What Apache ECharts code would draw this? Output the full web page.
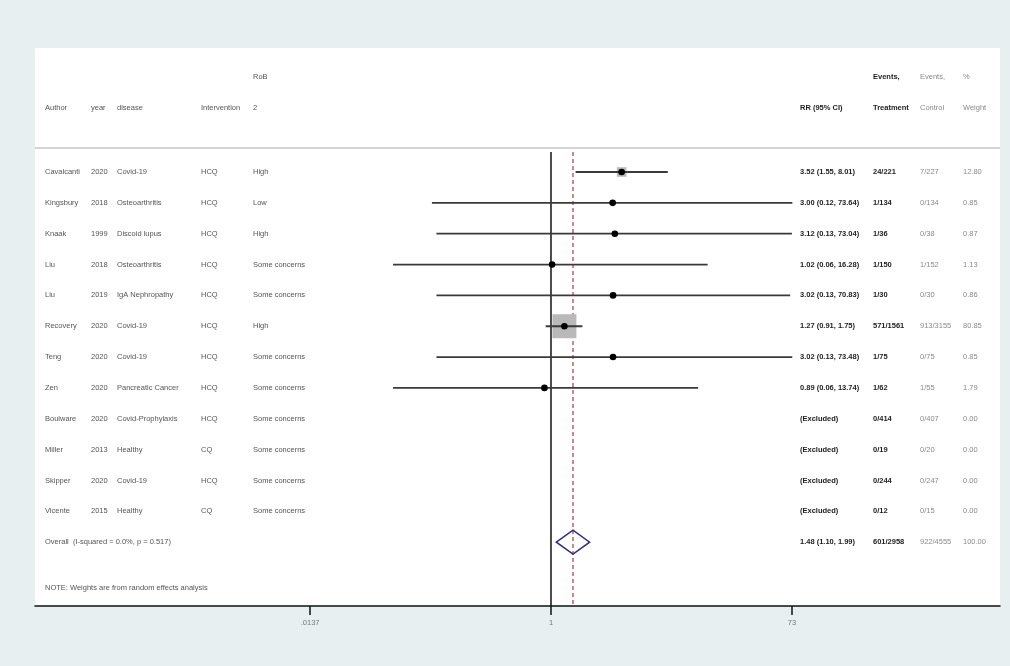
<!DOCTYPE html>
<html>
<head>
<meta charset="utf-8">
<title>Forest plot</title>
<script src="https://cdn.jsdelivr.net/npm/echarts@6/dist/echarts.min.js"></script>
<style>
  html, body { margin: 0; padding: 0; background: #e8eff1; }
  #chart { width: 1010px; height: 666px; }
</style>
</head>
<body>
<div id="chart"></div>
<script>
// ---- study table ----
const authors = ['Cavalcanti', 'Kingsbury', 'Knaak', 'Liu', 'Liu', 'Recovery', 'Teng', 'Zen', 'Boulware', 'Miller', 'Skipper', 'Vicente'];
const years = ['2020', '2018', '1999', '2018', '2019', '2020', '2020', '2020', '2020', '2013', '2020', '2015'];
const diseases = ['Covid-19', 'Osteoarthritis', 'Discoid lupus', 'Osteoarthritis', 'IgA Nephropathy', 'Covid-19', 'Covid-19',
  'Pancreatic Cancer', 'Covid-Prophylaxis', 'Healthy', 'Covid-19', 'Healthy'];
const interventions = ['HCQ', 'HCQ', 'HCQ', 'HCQ', 'HCQ', 'HCQ', 'HCQ', 'HCQ', 'HCQ', 'CQ', 'HCQ', 'CQ'];
const rob2 = ['High', 'Low', 'High', 'Some concerns', 'Some concerns', 'High', 'Some concerns', 'Some concerns',
  'Some concerns', 'Some concerns', 'Some concerns', 'Some concerns'];

// risk ratios with 95% CI (null = excluded study)
const rr = [3.52, 3.00, 3.12, 1.02, 3.02, 1.27, 3.02, 0.89, null, null, null, null];
const rrLow = [1.55, 0.12, 0.13, 0.06, 0.13, 0.91, 0.13, 0.06, null, null, null, null];
const rrHigh = [8.01, 73.64, 73.04, 16.28, 70.83, 1.75, 73.48, 13.74, null, null, null, null];
const eventsTreated = ['24/221', '1/134', '1/36', '1/150', '1/30', '571/1561', '1/75', '1/62', '0/414', '0/19', '0/244', '0/12'];
const eventsControl = ['7/227', '0/134', '0/38', '1/152', '0/30', '913/3155', '0/75', '1/55', '0/407', '0/20', '0/247', '0/15'];
const weights = [12.80, 0.85, 0.87, 1.13, 0.86, 80.85, 0.85, 1.79, 0.00, 0.00, 0.00, 0.00];

// pooled estimate
const overallRR = 1.48;
const overallLow = 1.10;
const overallHigh = 1.99;
const overallTreated = '601/2958';
const overallControl = '922/4555';
const overallWeight = '100.00';
const overallLabel = 'Overall  (I-squared = 0.0%, p = 0.517)';
const noteText = 'NOTE: Weights are from random effects analysis';

// x axis ticks
const tickValues = [0.0137, 1, 73];
const tickLabels = ['.0137', '1', '73'];

// ---- layout helpers ----
const lg = v => Math.log10(v);
const FONT = '"Liberation Sans", Arial, sans-serif';
const FS = 7.5;
const ROW_HEAD1 = -3.08, ROW_HEAD2 = -2.07, ROW_SEP = -0.78, ROW_LINE_TOP = -0.65;
const ROW_OVERALL = 12, ROW_NOTE = 13.48;
const Y_MIN = -4.02, Y_MAX = 14.07;
const X_MIN = -3.991, X_MAX = 3.473;

const COLS = { author: 45, year: 91, disease: 117, interv: 201, rob: 253, rr: 800, treat: 873, ctrl: 920, weight: 963 };

const fmt = v => v.toFixed(2);
const rrText = i => rr[i] == null ? '(Excluded)' : fmt(rr[i]) + ' (' + fmt(rrLow[i]) + ', ' + fmt(rrHigh[i]) + ')';

function txt(x, y, text, fill, weight) {
  return {
    type: 'text', x: x, y: y,
    style: { text: text, fill: fill, fontSize: FS, fontFamily: FONT, fontWeight: weight || 'normal', verticalAlign: 'middle', align: 'left' }
  };
}

// table rows: index, row position
const tableRows = authors.map((a, i) => [i, i]);
tableRows.push([-1, ROW_OVERALL]);
tableRows.push([-2, ROW_HEAD1]);
tableRows.push([-3, ROW_HEAD2]);
tableRows.push([-4, ROW_NOTE]);

const studyData = [];
rr.forEach((v, i) => {
  if (v != null) studyData.push([lg(rrLow[i]), lg(v), lg(rrHigh[i]), i, weights[i]]);
});

const chart = echarts.init(document.getElementById('chart'), null, { renderer: 'canvas' });

chart.setOption({
  backgroundColor: '#e8eff1',
  animation: false,
  grid: { left: 35, right: 10, top: 48, bottom: 60, show: true, backgroundColor: '#ffffff', borderWidth: 0 },
  xAxis: {
    type: 'value', min: X_MIN, max: X_MAX,
    splitLine: { show: false },
    axisLine: { show: true, onZero: false, lineStyle: { color: '#111', width: 1.5 } },
    axisTick: { show: true, length: 9, customValues: tickValues.map(lg), lineStyle: { color: '#111', width: 1.5 } },
    axisLabel: {
      customValues: tickValues.map(lg), margin: 13, color: '#777', fontSize: FS, fontFamily: FONT,
      formatter: v => {
        let best = 0;
        tickValues.forEach((t, k) => { if (Math.abs(lg(t) - v) < Math.abs(lg(tickValues[best]) - v)) best = k; });
        return tickLabels[best];
      }
    }
  },
  yAxis: { type: 'value', min: Y_MIN, max: Y_MAX, inverse: true, show: false },
  series: [
    {
      // header separator
      type: 'custom', silent: true, z: 1,
      data: [[X_MIN, X_MAX, ROW_SEP]],
      renderItem: (params, api) => {
        const a = api.coord([api.value(0), api.value(2)]);
        const b = api.coord([api.value(1), api.value(2)]);
        return { type: 'line', shape: { x1: a[0], y1: a[1], x2: b[0], y2: b[1] }, style: { stroke: '#d4d4d4', lineWidth: 2 } };
      }
    },
    {
      // line of no effect and pooled-estimate line
      type: 'custom', silent: true, z: 2,
      data: [[lg(1), ROW_LINE_TOP, Y_MAX, 0], [lg(overallRR), ROW_LINE_TOP, Y_MAX, 1]],
      renderItem: (params, api) => {
        const a = api.coord([api.value(0), api.value(1)]);
        const b = api.coord([api.value(0), api.value(2)]);
        const dashed = api.value(3) === 1;
        return {
          type: 'line', shape: { x1: a[0], y1: a[1], x2: b[0], y2: b[1] },
          style: dashed ? { stroke: '#b5474f', lineWidth: 1.3, lineDash: [4, 3] } : { stroke: '#111', lineWidth: 1.5 }
        };
      }
    },
    {
      // study estimates: weight box, CI line, point
      type: 'custom', silent: true, z: 3,
      data: studyData,
      renderItem: (params, api) => {
        const lo = api.coord([api.value(0), api.value(3)]);
        const c = api.coord([api.value(1), api.value(3)]);
        const hi = api.coord([api.value(2), api.value(3)]);
        const side = 2.67 * Math.sqrt(api.value(4));
        return {
          type: 'group', children: [
            { type: 'rect', shape: { x: c[0] - side / 2, y: c[1] - side / 2, width: side, height: side }, style: { fill: '#b9b9b9' } },
            { type: 'line', shape: { x1: lo[0], y1: lo[1], x2: hi[0], y2: hi[1] }, style: { stroke: '#3a3a3a', lineWidth: 1.8 } },
            { type: 'circle', shape: { cx: c[0], cy: c[1], r: 3.3 }, style: { fill: '#000' } }
          ]
        };
      }
    },
    {
      // pooled diamond
      type: 'custom', silent: true, z: 4,
      data: [[lg(overallLow), lg(overallRR), lg(overallHigh), ROW_OVERALL]],
      renderItem: (params, api) => {
        const lo = api.coord([api.value(0), api.value(3)]);
        const c = api.coord([api.value(1), api.value(3)]);
        const hi = api.coord([api.value(2), api.value(3)]);
        const h = 12;
        return {
          type: 'polygon',
          shape: { points: [[lo[0], lo[1]], [c[0], c[1] - h], [hi[0], hi[1]], [c[0], c[1] + h]] },
          style: { fill: 'none', stroke: '#2f2f86', lineWidth: 1.5 }
        };
      }
    },
    {
      // text columns
      type: 'custom', silent: true, z: 5,
      data: tableRows,
      renderItem: (params, api) => {
        const idx = api.value(0);
        const y = api.coord([0, api.value(1)])[1];
        const dark = '#222', mid = '#555', light = '#8a8a8a';
        let ch = [];
        if (idx >= 0) {
          ch = [
            txt(COLS.author, y, authors[idx], mid),
            txt(COLS.year, y, years[idx], mid),
            txt(COLS.disease, y, diseases[idx], mid),
            txt(COLS.interv, y, interventions[idx], mid),
            txt(COLS.rob, y, rob2[idx], mid),
            txt(COLS.rr, y, rrText(idx), dark, 'bold'),
            txt(COLS.treat, y, eventsTreated[idx], dark, 'bold'),
            txt(COLS.ctrl, y, eventsControl[idx], light),
            txt(COLS.weight, y, fmt(weights[idx]), light)
          ];
        } else if (idx === -1) {
          ch = [
            txt(COLS.author, y, overallLabel, mid),
            txt(COLS.rr, y, fmt(overallRR) + ' (' + fmt(overallLow) + ', ' + fmt(overallHigh) + ')', dark, 'bold'),
            txt(COLS.treat, y, overallTreated, dark, 'bold'),
            txt(COLS.ctrl, y, overallControl, light),
            txt(COLS.weight, y, overallWeight, light)
          ];
        } else if (idx === -2) {
          ch = [
            txt(COLS.rob, y, 'RoB', mid),
            txt(COLS.treat, y, 'Events,', dark, 'bold'),
            txt(COLS.ctrl, y, 'Events,', light),
            txt(COLS.weight, y, '%', light)
          ];
        } else if (idx === -3) {
          ch = [
            txt(COLS.author, y, 'Author', mid),
            txt(COLS.year, y, 'year', mid),
            txt(COLS.disease, y, 'disease', mid),
            txt(COLS.interv, y, 'Intervention', mid),
            txt(COLS.rob, y, '2', mid),
            txt(COLS.rr, y, 'RR (95% CI)', dark, 'bold'),
            txt(COLS.treat, y, 'Treatment', dark, 'bold'),
            txt(COLS.ctrl, y, 'Control', light),
            txt(COLS.weight, y, 'Weight', light)
          ];
        } else {
          ch = [txt(COLS.author, y, noteText, mid)];
        }
        return { type: 'group', children: ch };
      }
    }
  ]
});
</script>
</body>
</html>
